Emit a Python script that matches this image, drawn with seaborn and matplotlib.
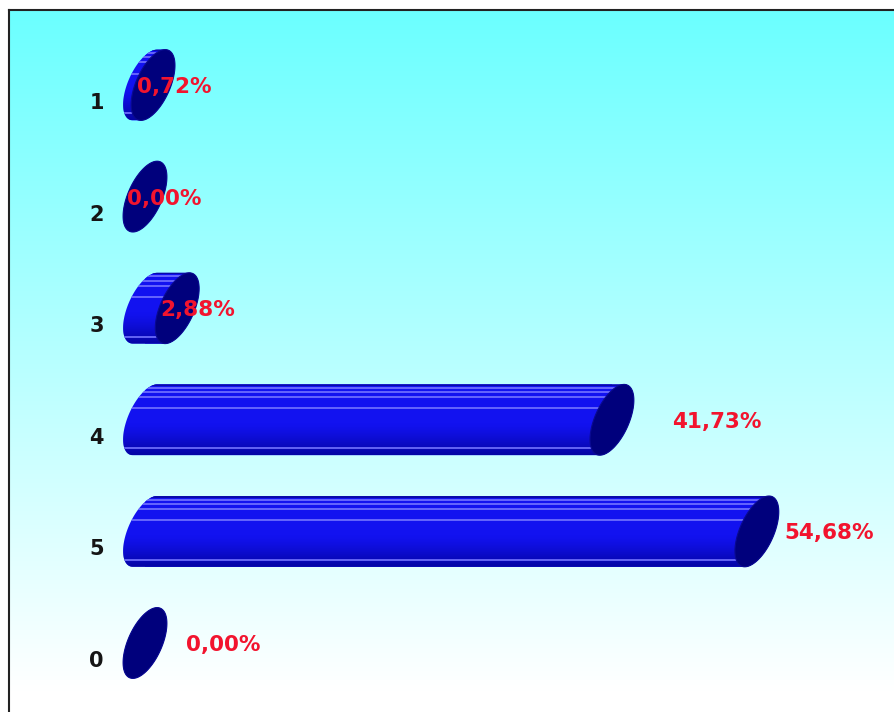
import numpy as np
import pandas as pd
import matplotlib
matplotlib.use("Agg")
import matplotlib.pyplot as plt
from matplotlib.patches import Polygon
from matplotlib.colors import to_rgb
import seaborn as sns

# --- data -------------------------------------------------------------
categories = ["1", "2", "3", "4", "5", "0"]
shares = [0.72, 0.00, 2.88, 41.73, 54.68, 0.00]
value_labels = ["0,72%", "0,00%", "2,88%", "41,73%", "54,68%", "0,00%"]

# horizontal pixel offset of each value label from its bar end
label_dx = [-16, -18, -17, 60, 28, 41]

# --- style ------------------------------------------------------------
BODY = "#1212f0"
STRIPE = "#7474ff"
SHADE = "#00008a"
CAP = "#00007c"
LABEL_RED = "#f2142e"
BAR_H = 0.635          # bar thickness in category units
CAP_A, CAP_B, CAP_TILT = 17.0, 38.0, np.deg2rad(24)   # cap ellipse (px)

sns.set_theme(style="white")
plt.rcParams["font.family"] = ["DejaVu Sans"]

W, H = 894, 712
fig = plt.figure(figsize=(W / 100, H / 100), dpi=100)
fig.patch.set_facecolor("white")
ax = fig.add_axes([9 / W, 0, (W - 9) / W, (H - 10) / H])

df = pd.DataFrame({"category": categories, "share": shares})
sns.barplot(data=df, x="share", y="category", order=categories, orient="h",
            color=BODY, saturation=1, width=BAR_H, ax=ax, zorder=3,
            edgecolor="none", linewidth=0)

# axis scales: 11.19 px per percent, 111.6 px per category
px_per_pct, px_per_cat = 11.19, 111.6
x0 = -(145 - 9) / px_per_pct
x1 = x0 + (W - 9) / px_per_pct
y_top = -(85 - 10) / px_per_cat
y_bot = y_top + (H - 10) / px_per_cat


def apply_limits():
    ax.set_xlim(x0, x1)
    ax.set_ylim(y_bot, y_top)


apply_limits()
ax.set_xlabel("")
ax.set_ylabel("")
ax.set_xticks([])
ax.set_yticks([])
for side in ("right", "bottom"):
    ax.spines[side].set_visible(False)
for side in ("left", "top"):
    ax.spines[side].set_visible(True)
    ax.spines[side].set_color("#222222")
    ax.spines[side].set_linewidth(1.5)

# background gradient: cyan at the top fading to white
n = 256
f = np.linspace(0, 1, n)
top = np.array(to_rgb("#6bffff"))
mix = np.clip(f / 0.97, 0, 1)[:, None]
grad = top[None, :] * (1 - mix) + np.array([1.0, 1.0, 1.0])[None, :] * mix
grad = np.repeat(grad[:, None, :], 2, axis=1)
ax.imshow(grad, extent=(0, 1, 0, 1), transform=ax.transAxes, origin="upper",
          aspect="auto", zorder=0, interpolation="bilinear")
apply_limits()

to_px = ax.transData
to_data = ax.transData.inverted()

# vertical shading of the cylinder body (transparent top, dark bottom)
sh = np.linspace(0, 1, 128)
shade_alpha = np.clip((sh - 0.55) / 0.45, 0, 1) ** 1.3 * 0.75
shade_rgba = np.zeros((128, 2, 4))
shade_rgba[..., :3] = to_rgb(SHADE)
shade_rgba[..., 3] = shade_alpha[:, None]


def ellipse_px(cx, cy, npts=120):
    t = np.linspace(0, 2 * np.pi, npts, endpoint=False)
    u = np.array([np.cos(CAP_TILT), -np.sin(CAP_TILT)])
    v = np.array([np.sin(CAP_TILT), np.cos(CAP_TILT)])
    return (np.array([cx, cy])[None, :]
            + (CAP_A * np.cos(t))[:, None] * u[None, :]
            + (CAP_B * np.sin(t))[:, None] * v[None, :])


def convex_hull(points):
    pts = sorted(map(tuple, points))

    def cross(o, a, b):
        return (a[0] - o[0]) * (b[1] - o[1]) - (a[1] - o[1]) * (b[0] - o[0])

    lower, upper = [], []
    for p in pts:
        while len(lower) >= 2 and cross(lower[-2], lower[-1], p) <= 0:
            lower.pop()
        lower.append(p)
    for p in reversed(pts):
        while len(upper) >= 2 and cross(upper[-2], upper[-1], p) <= 0:
            upper.pop()
        upper.append(p)
    return np.array(lower[:-1] + upper[:-1])


bars = sorted(ax.patches, key=lambda p: p.get_y())
for i, bar in enumerate(bars):
    yc = bar.get_y() + bar.get_height() / 2
    xs = bar.get_x()
    xe = bar.get_x() + bar.get_width()
    (lx, ly), (rx, ry) = to_px.transform([(xs, yc), (xe, yc)])
    left_e = ellipse_px(lx, ly)
    right_e = ellipse_px(rx, ry)
    hull = to_data.transform(convex_hull(np.vstack([left_e, right_e])))
    body = Polygon(hull, closed=True, facecolor=BODY, edgecolor="none",
                   zorder=2, transform=ax.transData)
    ax.add_patch(body)
    clip = Polygon(hull, closed=True, transform=ax.transData)
    bar.set_clip_path(clip)

    y_hi = yc - BAR_H / 2
    y_lo = yc + BAR_H / 2
    img = ax.imshow(shade_rgba, extent=(xs - 5, xe + 5, y_lo, y_hi),
                    origin="upper", aspect="auto", zorder=4,
                    interpolation="bilinear")
    img.set_clip_path(clip)
    apply_limits()

    # light fluting stripes along the cylinder
    for fr in (0.05, 0.11, 0.18, 0.34, 0.90):
        ln, = ax.plot([xs - 5, xe + 5], [y_hi + fr * BAR_H] * 2, color=STRIPE,
                      lw=1.2, zorder=4.5, solid_capstyle="butt")
        ln.set_clip_path(clip)
    edge, = ax.plot([xs - 5, xe + 5], [y_hi + 0.01 * BAR_H] * 2, color="#0a0aa8",
                    lw=1.4, zorder=4.5)
    edge.set_clip_path(clip)

    # dark end cap
    cap = Polygon(to_data.transform(right_e), closed=True, facecolor=CAP,
                  edgecolor="#0a0a90", lw=0.8, zorder=5, transform=ax.transData)
    ax.add_patch(cap)

    # category label
    ax.annotate(categories[i], xy=(0, yc), xytext=(-41, -18),
                textcoords="offset pixels", ha="right", va="center",
                fontsize=15, fontweight="bold", color="#151515", zorder=6)
    # value label
    ax.annotate(value_labels[i], xy=(shares[i], yc), xytext=(label_dx[i], -2),
                textcoords="offset pixels", ha="left", va="center",
                fontsize=15.5, fontweight="bold", color=LABEL_RED, zorder=6)

apply_limits()
fig.savefig("out.png", dpi=100)
